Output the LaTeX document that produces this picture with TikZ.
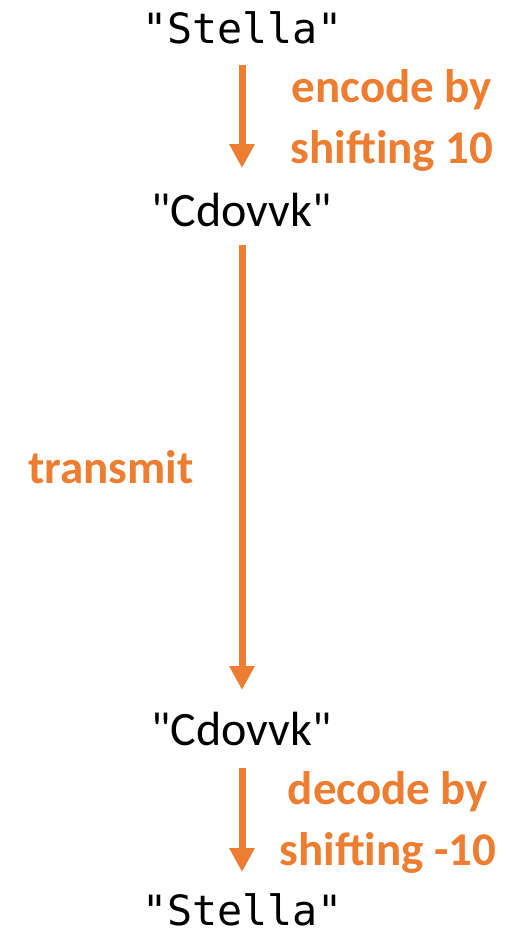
\documentclass[tikz,border=0pt]{standalone}
\usepackage{fontspec}
\setmainfont{Carlito}
\newfontfamily\calfam{Carlito}
\newfontfamily\monofam{DejaVu Sans Mono}
\usetikzlibrary{arrows.meta,calc}
\definecolor{accent}{HTML}{ED7D31}
\tikzset{
  monotext/.style={anchor=base, inner sep=0pt, font=\monofam\fontsize{41.7}{50}\selectfont},
  sanstext/.style={anchor=base, inner sep=0pt, font=\calfam\fontsize{48}{58}\selectfont},
  lbl/.style={anchor=base, inner sep=0pt, align=center, text=accent, font=\bfseries\fontsize{47}{61}\selectfont},
  arr/.style={draw=accent, line width=7pt, -{Triangle[length=24pt,width=24pt]}}
}
\begin{document}
\begin{tikzpicture}[x=1pt,y=-1pt]
\useasboundingbox (0,0) rectangle (521,929);
\node[monotext] (s1) at (242.5,43) {"Stella"};
\node[sanstext] (c1) at (241.5,226) {"Cdovvk"};
\node[sanstext] (c2) at (241.5,745) {"Cdovvk"};
\node[monotext] (s2) at (242.5,925) {"Stella"};
\node[lbl] (l1) at (392,163) {encode by\\shifting 10};
\node[lbl] (l2) at (111,483) {transmit};
\node[lbl] (l3) at (388,865) {decode by\\shifting -10};
\draw[arr] ($(s1.base)+(-0.5,22)$) -- ($(c1.base)+(0.5,-58)$);
\draw[arr] ($(c1.base)+(0.5,19)$) -- ($(c2.base)+(0.5,-55)$);
\draw[arr] ($(c2.base)+(0.5,23)$) -- ($(s2.base)+(-0.5,-53)$);
\end{tikzpicture}
\end{document}
